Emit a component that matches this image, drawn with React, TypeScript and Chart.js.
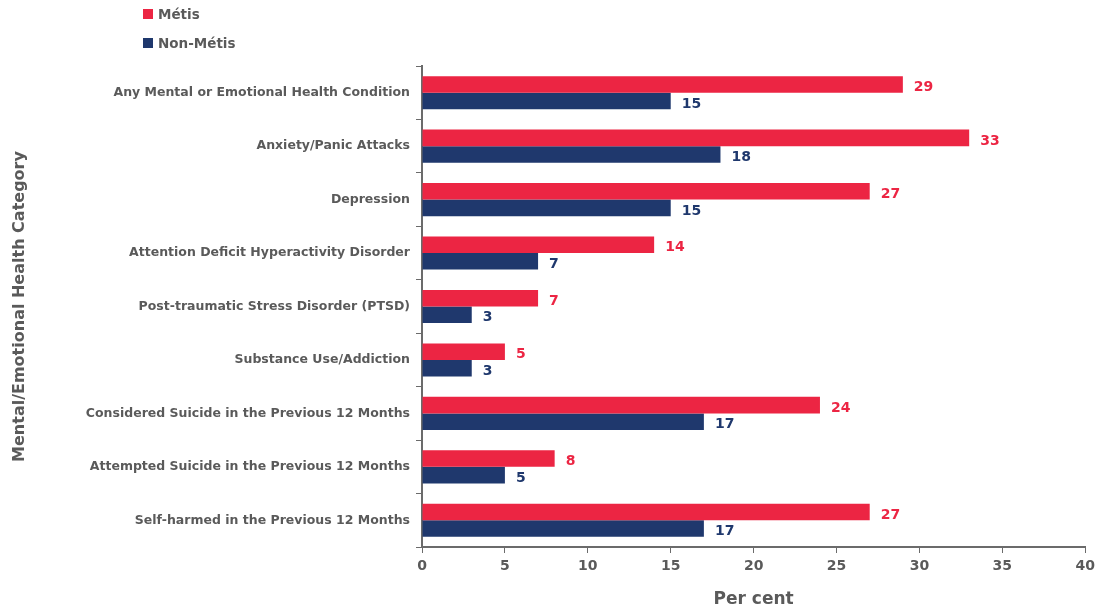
import React, { useEffect, useRef } from "react";
import { Chart, registerables } from "chart.js";

Chart.register(...registerables);

const categories = [
  "Any Mental or Emotional Health Condition",
  "Anxiety/Panic Attacks",
  "Depression",
  "Attention Deficit Hyperactivity Disorder",
  "Post-traumatic Stress Disorder (PTSD)",
  "Substance Use/Addiction",
  "Considered Suicide in the Previous 12 Months",
  "Attempted Suicide in the Previous 12 Months",
  "Self-harmed in the Previous 12 Months",
];
const metis = [29, 33, 27, 14, 7, 5, 24, 8, 27];
const nonMetis = [15, 18, 15, 7, 3, 3, 17, 5, 17];
const seriesNames = ["Métis", "Non-Métis"];
const colors = ["#EC2543", "#1F386D"];
const xTicks = [0, 5, 10, 15, 20, 25, 30, 35, 40];

const FONT = "'DejaVu Sans', sans-serif";
const GRAY = "#5a5a5a";

const valueLabels = {
  id: "valueLabels",
  afterDatasetsDraw(chart: any) {
    const ctx = chart.ctx;
    ctx.save();
    ctx.font = `bold 14px ${FONT}`;
    ctx.textBaseline = "middle";
    ctx.textAlign = "left";
    chart.data.datasets.forEach((ds: any, i: number) => {
      const meta = chart.getDatasetMeta(i);
      ctx.fillStyle = colors[i];
      meta.data.forEach((bar: any, j: number) => {
        ctx.fillText(String(ds.data[j]), bar.x + 11, bar.y + 3);
      });
    });
    ctx.restore();
  },
};

export default function App() {
  const ref = useRef<HTMLCanvasElement>(null);
  useEffect(() => {
    document.body.style.margin = "0";
    const chart = new Chart(ref.current!, {
      type: "bar",
      data: {
        labels: categories,
        datasets: [
          { label: seriesNames[0], data: metis, backgroundColor: colors[0] },
          { label: seriesNames[1], data: nonMetis, backgroundColor: colors[1] },
        ],
      },
      options: {
        indexAxis: "y",
        responsive: false,
        animation: false,
        layout: { padding: { top: 66, right: 13, left: 10, bottom: 0 } },
        datasets: { bar: { categoryPercentage: 0.62, barPercentage: 1 } },
        plugins: { legend: { display: false }, tooltip: { enabled: false } },
        scales: {
          x: {
            min: 0,
            max: 40,
            afterBuildTicks: (s: any) => {
              s.ticks = xTicks.map((v) => ({ value: v }));
            },
            afterFit: (s: any) => {
              s.height = 63;
            },
            grid: {
              display: true,
              drawOnChartArea: false,
              drawTicks: true,
              tickLength: 6,
              color: "#6b6b6b",
            },
            border: { display: true, color: "#6b6b6b", width: 2 },
            ticks: {
              color: GRAY,
              font: { family: FONT, size: 14, weight: "bold" },
              padding: 5,
            },
            title: {
              display: true,
              text: "Per cent",
              color: GRAY,
              font: { family: FONT, size: 17, weight: "bold" },
              padding: { top: 9, bottom: 0 },
            },
          },
          y: {
            afterFit: (s: any) => {
              s.width = 412;
            },
            grid: {
              display: true,
              drawOnChartArea: false,
              drawTicks: true,
              tickLength: 6,
              offset: true,
              color: "#6b6b6b",
            },
            border: { display: true, color: "#6b6b6b", width: 2 },
            ticks: {
              color: GRAY,
              font: { family: FONT, size: 12.5, weight: "bold" },
              padding: 6,
            },
            title: {
              display: true,
              text: "Mental/Emotional Health Category",
              color: GRAY,
              font: { family: FONT, size: 16, weight: "bold" },
              padding: { top: 0, bottom: 0 },
            },
          },
        },
      },
      plugins: [valueLabels],
    } as any);
    return () => chart.destroy();
  }, []);

  const legendItem = (i: number, top: number) => (
    <div
      key={i}
      style={{
        position: "absolute",
        left: 143,
        top,
        display: "flex",
        alignItems: "center",
        fontFamily: FONT,
        fontWeight: "bold",
        fontSize: 13.5,
        color: GRAY,
      }}
    >
      <span
        style={{
          display: "inline-block",
          width: 10,
          height: 10,
          background: colors[i],
          marginRight: 5,
        }}
      />
      {seriesNames[i]}
    </div>
  );

  return (
    <div style={{ position: "relative", width: 1100, height: 610, background: "#fff" }}>
      <canvas ref={ref} width={1100} height={610} />
      {legendItem(0, 6)}
      {legendItem(1, 35)}
    </div>
  );
}
